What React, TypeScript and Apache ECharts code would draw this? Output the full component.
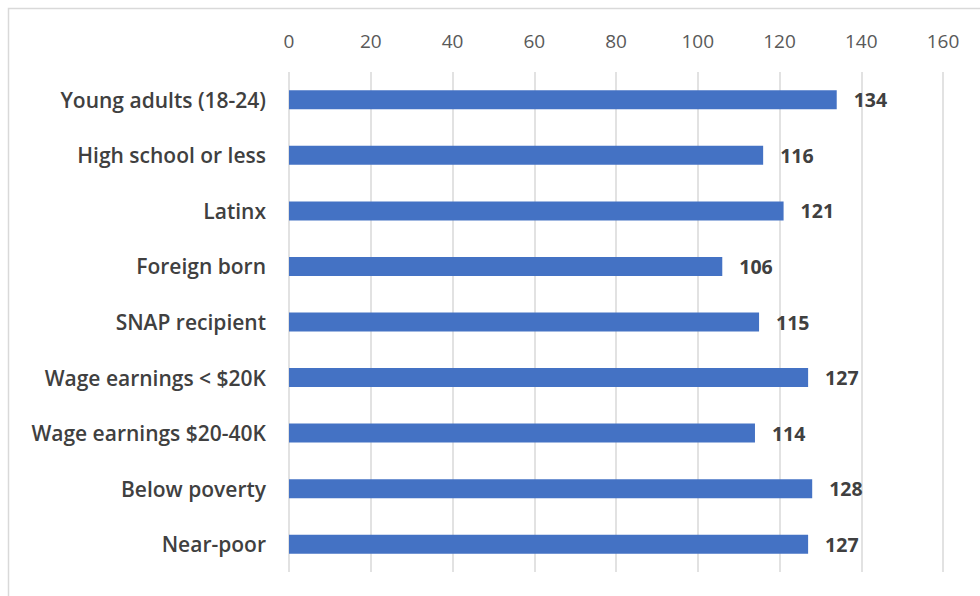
import React, { useEffect, useRef } from "react";
import * as echarts from "echarts";

const categories = [
  "Young adults (18-24)",
  "High school or less",
  "Latinx",
  "Foreign born",
  "SNAP recipient",
  "Wage earnings < $20K",
  "Wage earnings $20-40K",
  "Below poverty",
  "Near-poor",
];
const values = [134, 116, 121, 106, 115, 127, 114, 128, 127];
const axisMin = 0;
const axisMax = 160;
const axisStep = 20;

const FONT = "'Open Sans', 'Noto Sans', sans-serif";

export default function App() {
  const ref = useRef<HTMLDivElement>(null);
  useEffect(() => {
    if (!ref.current) return;
    const chart = echarts.init(ref.current, null, { renderer: "svg" });
    chart.setOption({
      animation: false,
      backgroundColor: "#ffffff",
      graphic: [
        {
          type: "rect",
          shape: { x: 8.5, y: 8.5, width: 1200, height: 1200 },
          style: { fill: "none", stroke: "#d9d9d9", lineWidth: 1.5 },
          silent: true,
        },
      ],
      grid: { left: 289, right: 37, top: 72, bottom: 24, containLabel: false },
      xAxis: {
        type: "value",
        position: "top",
        min: axisMin,
        max: axisMax,
        interval: axisStep,
        axisLine: { show: false },
        axisTick: { show: false },
        axisLabel: {
          color: "#595959",
          fontSize: 19,
          fontFamily: FONT,
          margin: 22,
        },
        splitLine: { show: true, lineStyle: { color: "#d9d9d9", width: 1.5 } },
      },
      yAxis: {
        type: "category",
        inverse: true,
        data: categories,
        axisLine: { show: false },
        axisTick: { show: false },
        axisLabel: {
          color: "#404040",
          fontSize: 21,
          fontWeight: 600,
          fontFamily: FONT,
          margin: 23,
        },
      },
      series: [
        {
          type: "bar",
          data: values,
          barWidth: 19,
          itemStyle: { color: "#4472c4" },
          label: {
            show: true,
            position: "right",
            distance: 17,
            color: "#404040",
            fontSize: 19.5,
            fontWeight: "bold",
            fontFamily: FONT,
          },
        },
      ],
    });
    return () => chart.dispose();
  }, []);
  return (
    <div
      ref={ref}
      style={{ position: "fixed", left: 0, top: 0, width: 980, height: 596 }}
    />
  );
}
